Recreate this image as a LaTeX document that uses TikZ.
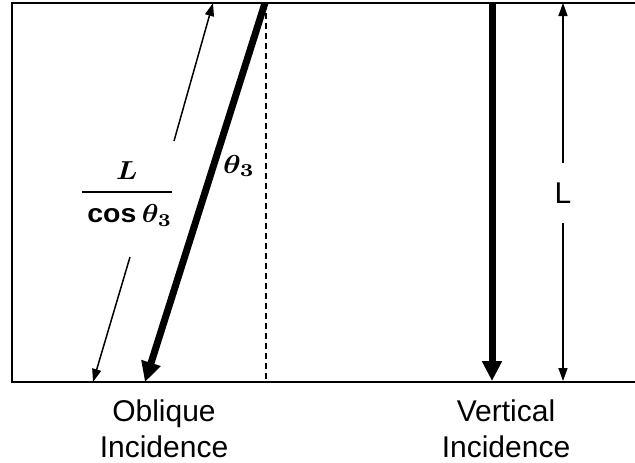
\documentclass[tikz,border=0pt]{standalone}
\usepackage{amsmath}
\usepackage{graphicx}
\usepackage{fontspec}
\setmainfont{Liberation Sans}
\usetikzlibrary{arrows.meta}

\begin{document}
\begin{tikzpicture}[
  x=1pt, y=-1pt,
  frame/.style={line width=2.2pt},
  ray/.style={-{Triangle[length=20pt,width=19pt]}, line width=7pt},
  dim/.style={-{Triangle[length=13pt,width=9pt]}, line width=1.5pt},
  guide/.style={dash pattern=on 6pt off 4pt, line width=1.3pt},
  caption/.style={align=center, font=\fontsize{30}{36}\selectfont, inner sep=0pt},
  maths/.style={font=\fontsize{10}{12}\selectfont, inner sep=0pt}
]
  \useasboundingbox (0,0) rectangle (635,463);

  % Frame, open on the right
  \draw[frame] (635,3) -- (12,3) -- (12,382) -- (635,382);

  % Oblique incidence
  \coordinate (oblTop) at (265,3);
  \coordinate (oblBot) at (145,382);
  \coordinate (normTop) at (266,3);
  \coordinate (normBot) at (266,382);
  \draw[guide] (normTop) -- (normBot);
  \draw[ray] (oblTop) -- (oblBot);
  \node[maths] (angle) at (239,166)
    {\scalebox{3.0}[2.6]{\boldmath$\theta_3$}};

  % Slant length
  \node[maths] (slant) at (127,194)
    {\scalebox{2.85}[2.6]{\boldmath$\genfrac{}{}{1pt}{0}{L}{\rule{0pt}{8.4pt}\cos\theta_3}$}};
  \coordinate (slantTop) at (213,3);
  \coordinate (slantUp) at (174,141);
  \coordinate (slantDown) at (130,257);
  \coordinate (slantBot) at (93,382);
  \draw[dim] (slantUp) -- (slantTop);
  \draw[dim] (slantDown) -- (slantBot);

  % Vertical incidence
  \coordinate (vertTop) at (492,3);
  \coordinate (vertBot) at (492,381);
  \draw[ray] (vertTop) -- (vertBot);
  \node[font=\fontsize{30}{36}\selectfont, inner xsep=0pt, inner ysep=19pt] (depth) at (563,193) {L};
  \coordinate (depthTop) at (563,3);
  \coordinate (depthBot) at (563,381);
  \draw[dim] (depth.north) -- (depthTop);
  \draw[dim] (depth.south) -- (depthBot);

  % Captions
  \node[caption, anchor=north] (obliqueCap) at (164,400) {Oblique\\Incidence};
  \node[caption, anchor=north] (verticalCap) at (506,400) {Vertical\\Incidence};
\end{tikzpicture}
\end{document}
